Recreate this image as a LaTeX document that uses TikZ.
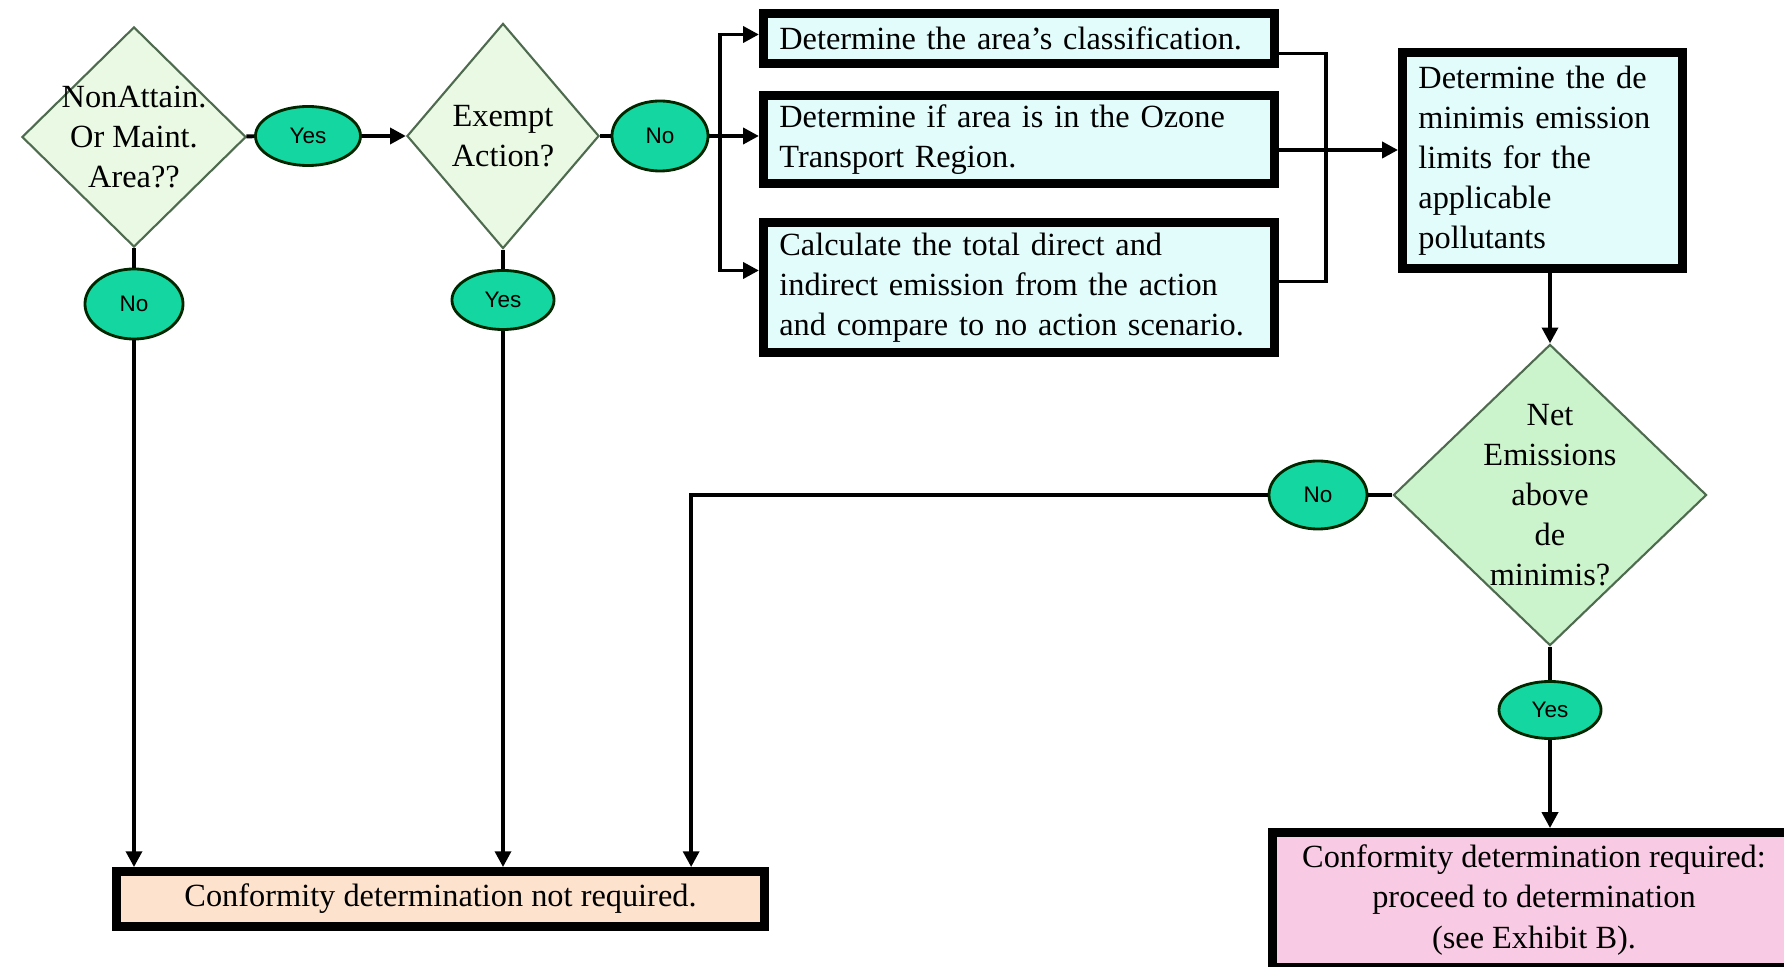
\documentclass[tikz,border=0pt]{standalone}
\usepackage{fontspec}
\setmainfont{Liberation Serif}
\setsansfont{Liberation Sans}
\usetikzlibrary{shapes.geometric,arrows.meta,calc}

\definecolor{paleleaf}{HTML}{EAF9E4}
\definecolor{mint}{HTML}{CCF4CC}
\definecolor{jade}{HTML}{14D6A0}
\definecolor{icecyan}{HTML}{E2FCFC}
\definecolor{peach}{HTML}{FDE3CE}
\definecolor{rosepink}{HTML}{F9CAE3}
\definecolor{sage}{HTML}{4F6B4F}

\begin{document}
\begin{tikzpicture}[
    x=0.01cm, y=-0.01cm,
    >={Triangle[length=4.5pt,width=4.5pt]},
    decision/.style={
        diamond, draw=sage, line width=0.6pt,
        inner sep=-6pt, align=center,
        font=\fontsize{9.2}{11.4}\selectfont
    },
    answer/.style={ellipse, draw=black!85!green, line width=0.8pt, fill=jade,
        inner sep=0pt, font=\sffamily\fontsize{6.4}{8}\selectfont},
    task/.style={
        rectangle, draw, line width=2.5pt, fill=icecyan,
        inner xsep=0.16cm, inner ysep=0pt, align=left,
        font=\fontsize{9.2}{11.4}\selectfont
    },
    outcome/.style={rectangle, draw, line width=2.5pt, inner sep=0pt,
        align=center, font=\fontsize{9.2}{11.4}\selectfont},
    conn/.style={line width=1.1pt},
    flow/.style={->, line width=1.1pt}
]
    \useasboundingbox (0,0) rectangle (1784,967);
    \clip (0,0) rectangle (1784,967);

    % Decisions
    \node[decision, fill=paleleaf, minimum width=2.24cm, minimum height=2.2cm] (d1) at (134,137) {NonAttain.\\Or Maint.\\Area??};
    \node[decision, fill=paleleaf, minimum width=1.92cm, minimum height=2.25cm] (d2) at (503,136) {Exempt\\Action?};
    \node[decision, fill=mint, minimum width=3.13cm, minimum height=3.01cm] (d3) at (1550,495) {Net\\Emissions\\above\\de\\minimis?};

    % Answers
    \node[answer, minimum width=1.05cm, minimum height=0.59cm] (y1) at (308,136) {Yes};
    \node[answer, minimum width=0.96cm, minimum height=0.70cm] (n2) at (660,136) {No};
    \node[answer, minimum width=0.98cm, minimum height=0.70cm] (n1) at (134,304) {No};
    \node[answer, minimum width=1.02cm, minimum height=0.59cm] (y2) at (503,300) {Yes};
    \node[answer, minimum width=0.98cm, minimum height=0.68cm] (n3) at (1318,495) {No};
    \node[answer, minimum width=1.02cm, minimum height=0.57cm] (y3) at (1550,710) {Yes};

    % Tasks
    \node[task, text width=4.79cm, minimum height=0.5cm] (box1) at (1019,38.5) {Determine the area’s classification.};
    \node[task, text width=4.79cm, minimum height=0.88cm] (box2) at (1019,139.5) {Determine if area is in the Ozone\\Transport Region.};
    \node[task, text width=4.79cm, minimum height=1.3cm] (box3) at (1019,287.5) {Calculate the total direct and\\indirect emission from the action\\and compare to no action scenario.};
    \node[task, text width=2.48cm, minimum height=2.16cm] (box4) at (1542.5,160.5) {Determine the de\\minimis emission\\limits for the\\applicable\\pollutants};

    % Outcomes
    \node[outcome, fill=peach, minimum width=6.48cm, minimum height=0.55cm] (box5) at (440.5,899) {Conformity determination not required.};
    \node[outcome, fill=rosepink, minimum width=5.23cm, minimum height=1.35cm] (box6) at (1534,900) {Conformity determination required:\\proceed to determination\\(see Exhibit B).};

    % Connections
    \coordinate (fork) at (720,136);
    \coordinate (join) at (1326,150);
    \draw[conn] (d1) -- (y1);
    \draw[flow] (y1) -- (d2);
    \draw[conn] (d2) -- (n2);
    \draw[conn] (n2) -- (fork);
    \draw[flow] (fork) |- ([yshift=0.4mm]box1.west);
    \draw[flow] (fork) -- (fork -| box2.west);
    \draw[flow] (fork) |- ([yshift=1.7mm]box3.west);
    \draw[conn] ([yshift=-1.5mm]box1.east) -| (join);
    \draw[conn] ([yshift=0.6mm]box3.east) -| (join);
    \draw[flow] (box2.east |- join) -- (box4.west |- join);
    \draw[flow] (box4.south -| d3.north) -- (d3.north);

    \draw[conn] (d1) -- (n1);
    \draw[flow] (n1) -- (n1 |- box5.north);
    \draw[conn] (d2) -- (y2);
    \draw[flow] (y2) -- (y2 |- box5.north);
    \draw[conn] (d3) -- (n3);
    \draw[flow] (n3) -| ([xshift=2.505cm]box5.north);
    \draw[conn] (d3) -- (y3);
    \draw[flow] (y3) -- (y3 |- box6.north);

\end{tikzpicture}
\end{document}
